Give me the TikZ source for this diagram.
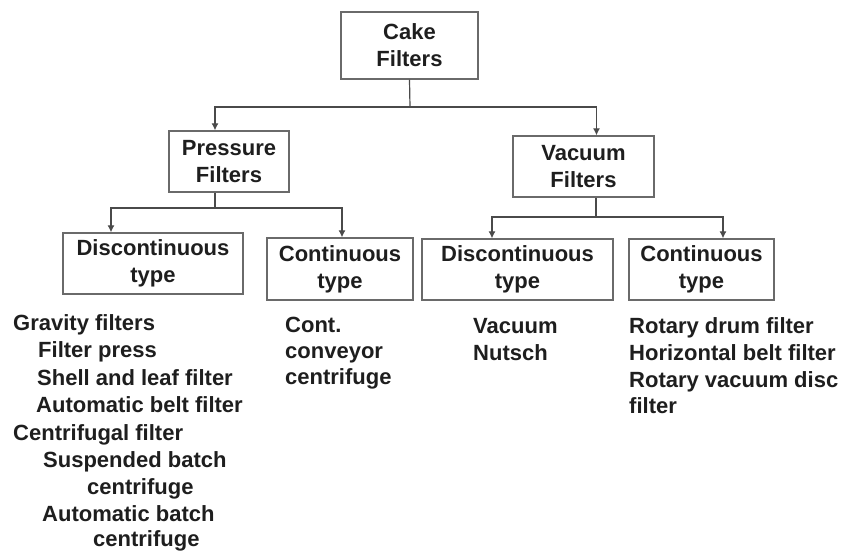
\documentclass[tikz,border=0pt]{standalone}
\usepackage{fontspec}
\setmainfont{Liberation Sans}
\usetikzlibrary{arrows.meta}
\definecolor{txt}{HTML}{1E1E1E}
\definecolor{edge}{HTML}{6A6A6A}
\definecolor{conn}{HTML}{4A4A4A}
\tikzset{
  box/.style={draw=edge, line width=1.3pt, rectangle, align=center, inner sep=0pt,
    font=\fontsize{22}{27}\selectfont\bfseries, text=txt},
  item/.style={anchor=base west, inner sep=0pt, font=\fontsize{22}{27}\selectfont\bfseries, text=txt},
  conline/.style={draw=conn, line width=1.2pt},
  arr/.style={conline, -{Latex[length=7pt,width=7pt]}}
}
\begin{document}
\begin{tikzpicture}[x=1pt,y=-1pt]
\useasboundingbox (0,0) rectangle (846,552);
% boxes
\node[box, minimum width=137pt, minimum height=67pt] (cake) at (409.5,45.5) {Cake\\Filters};
\node[box, minimum width=120pt, minimum height=61pt] (pres) at (229,161.5) {Pressure\\Filters};
\node[box, minimum width=141pt, minimum height=61pt] (vac) at (583.5,166.5) {Vacuum\\Filters};
\node[box, minimum width=180pt, minimum height=61pt] (dl) at (153,263.5) {Discontinuous\\type};
\node[box, minimum width=146pt, minimum height=62pt] (cl) at (340,269) {Continuous\\type};
\node[box, minimum width=191pt, minimum height=61pt] (dr) at (517.5,269.5) {Discontinuous\\type};
\node[box, minimum width=145pt, minimum height=61pt] (cr) at (701.5,269.5) {Continuous\\type};
% junctions
\coordinate (j1) at (410,107);
\coordinate (j2) at (215,208);
\coordinate (j3) at (596,217);
% connectors
\draw[conline] (cake.south) -- (j1);
\draw[arr] (j1) -| ([xshift=-14pt]pres.north);
\draw[arr] (j1) -| ([xshift=13pt]vac.north);
\draw[conline] ([xshift=-14pt]pres.south) -- (j2);
\draw[arr] (j2) -| ([xshift=-42pt]dl.north);
\draw[arr] (j2) -| ([xshift=2pt]cl.north);
\draw[conline] ([xshift=12.5pt]vac.south) -- (j3);
\draw[arr] (j3) -| ([xshift=-25.5pt]dr.north);
\draw[arr] (j3) -| ([xshift=21.5pt]cr.north);
% left list
\node[item] (l1) at (13,330) {Gravity filters};
\node[item] (l2) at (38,357) {Filter press};
\node[item] (l3) at (37,385) {Shell and leaf filter};
\node[item] (l4) at (36,412) {Automatic belt filter};
\node[item] (l5) at (13,440) {Centrifugal filter};
\node[item] (l6) at (43,467) {Suspended batch};
\node[item] (l7) at (87,494) {centrifuge};
\node[item] (l8) at (42,521) {Automatic batch};
\node[item] (l9) at (93,546) {centrifuge};
% continuous left
\node[item] (c1) at (285,332) {Cont.};
\node[item] (c2) at (285,358) {conveyor};
\node[item] (c3) at (285,384) {centrifuge};
% vacuum discontinuous
\node[item] (v1) at (473,333) {Vacuum};
\node[item] (v2) at (473,360) {Nutsch};
% vacuum continuous
\node[item] (r1) at (629,333) {Rotary drum filter};
\node[item] (r2) at (629,360) {Horizontal belt filter};
\node[item] (r3) at (629,387) {Rotary vacuum disc};
\node[item] (r4) at (629,413) {filter};
\end{tikzpicture}
\end{document}
